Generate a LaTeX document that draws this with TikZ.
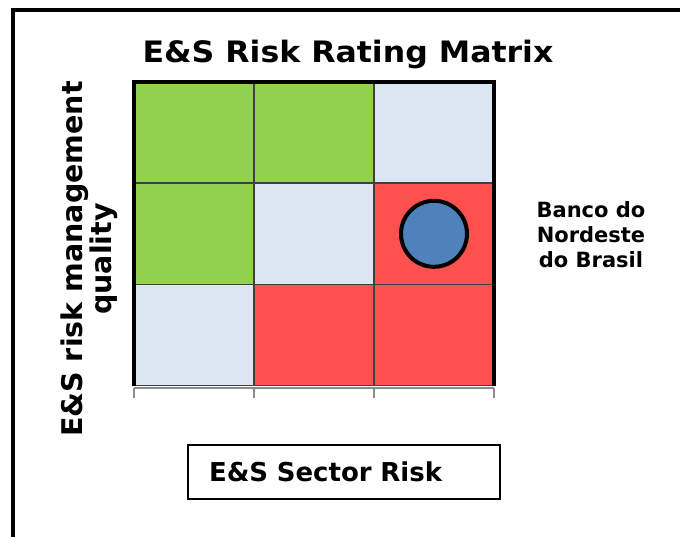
\documentclass[tikz,border=0pt]{standalone}
\usepackage{fontspec}
\setmainfont{DejaVu Sans}
\newfontfamily\titlefont{DejaVu Sans}[FakeStretch=1.07]
\usetikzlibrary{positioning}
\definecolor{matrixgreen}{HTML}{92D050}
\definecolor{matrixpale}{HTML}{DCE6F2}
\definecolor{matrixred}{HTML}{FF5050}
\definecolor{matrixblue}{HTML}{4F81BD}
\definecolor{axisgray}{HTML}{8C8C8C}

\begin{document}
\begin{tikzpicture}[
  x=1pt, y=-1pt,
  node distance=0pt,
  cell/.style={draw=black!75, line width=0.8pt, minimum width=119.2pt, minimum height=100.4pt, inner sep=0pt},
  frame/.style={line width=4pt, line cap=round},
  tick/.style={axisgray, line width=1.5pt}
]
\useasboundingbox (0,0) rectangle (680,537);
\draw[frame] (13,600) -- (13,10) -- (720,10);
\node[font=\titlefont\bfseries\fontsize{29.5}{34}\selectfont, anchor=base] (title) at (348,63) {E\&S Risk Rating Matrix};
% matrix cells
\node[cell, fill=matrixgreen, anchor=north west] (c11) at (134,82) {};
\node[cell, fill=matrixgreen, right=of c11] (c12) {};
\node[cell, fill=matrixpale, right=of c12] (c13) {};
\node[cell, fill=matrixgreen, below=of c11] (c21) {};
\node[cell, fill=matrixpale, right=of c21] (c22) {};
\node[cell, fill=matrixred, right=of c22] (c23) {};
\node[cell, fill=matrixpale, below=of c21] (c31) {};
\node[cell, fill=matrixred, right=of c31] (c32) {};
\node[cell, fill=matrixred, right=of c32] (c33) {};
\draw[axisgray, line width=2pt] ([yshift=-2pt]c31.south west) -- ([yshift=-2pt]c33.south east);
\foreach \c in {c31.south west, c32.south west, c33.south west, c33.south east}
  \draw[tick] ([yshift=-2pt]\c) -- ++(0,10);
\draw[line width=4pt] (c31.south west) -- (c11.north west) -- (c13.north east) -- (c33.south east);
\node[circle, draw, line width=4pt, fill=matrixblue, minimum size=66pt, inner sep=0pt] (bank) at (c23) {};
\node[font=\bfseries\fontsize{21}{25}\selectfont, align=center] (banklabel) at (591,235) {Banco do\\Nordeste\\do Brasil};
\node[rotate=90, align=center, font=\bfseries\fontsize{28.5}{29}\selectfont] (ylabel) at (89,259) {E\&S risk management\\quality};
\node[draw, line width=1.5pt, text width=270pt, inner xsep=21pt, minimum height=54pt, align=left, font=\bfseries\fontsize{26}{30}\selectfont] (xlabel) at (344,472) {E\&S Sector Risk};
\end{tikzpicture}
\end{document}
